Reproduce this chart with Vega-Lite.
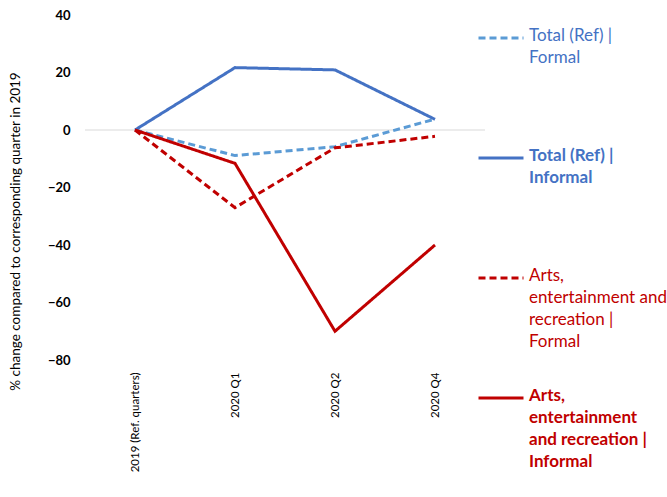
{
  "$schema": "https://vega.github.io/schema/vega-lite/v6.json",
  "width": 400,
  "height": 345,
  "autosize": "none",
  "padding": {"left": 85, "top": 15, "right": 182, "bottom": 137},
  "background": "white",
  "config": {"view": {"stroke": null}, "font": "Lato"},
  "data": {"values": [
    {"quarter": "2019 (Ref. quarters)", "series": "Total (Ref) | Formal", "value": 0},
    {"quarter": "2020 Q1", "series": "Total (Ref) | Formal", "value": -8.9},
    {"quarter": "2020 Q2", "series": "Total (Ref) | Formal", "value": -5.8},
    {"quarter": "2020 Q4", "series": "Total (Ref) | Formal", "value": 3.8},
    {"quarter": "2019 (Ref. quarters)", "series": "Total (Ref) | Informal", "value": 0},
    {"quarter": "2020 Q1", "series": "Total (Ref) | Informal", "value": 21.7},
    {"quarter": "2020 Q2", "series": "Total (Ref) | Informal", "value": 20.9},
    {"quarter": "2020 Q4", "series": "Total (Ref) | Informal", "value": 3.7},
    {"quarter": "2019 (Ref. quarters)", "series": "Arts, entertainment and recreation | Formal", "value": 0},
    {"quarter": "2020 Q1", "series": "Arts, entertainment and recreation | Formal", "value": -27},
    {"quarter": "2020 Q2", "series": "Arts, entertainment and recreation | Formal", "value": -6.2},
    {"quarter": "2020 Q4", "series": "Arts, entertainment and recreation | Formal", "value": -2.2},
    {"quarter": "2019 (Ref. quarters)", "series": "Arts, entertainment and recreation | Informal", "value": 0},
    {"quarter": "2020 Q1", "series": "Arts, entertainment and recreation | Informal", "value": -11.6},
    {"quarter": "2020 Q2", "series": "Arts, entertainment and recreation | Informal", "value": -70},
    {"quarter": "2020 Q4", "series": "Arts, entertainment and recreation | Informal", "value": -40}
  ]},
  "layer": [
    {
      "data": {"values": [{"zero": 0}]},
      "mark": {"type": "rule", "color": "#d9d9d9", "strokeWidth": 1},
      "encoding": {"y": {"field": "zero", "type": "quantitative", "scale": {"domain": [-80, 40]}}}
    },
    {
      "mark": {"type": "line", "strokeWidth": 3},
      "encoding": {
        "x": {
          "field": "quarter", "type": "nominal",
          "sort": ["2019 (Ref. quarters)", "2020 Q1", "2020 Q2", "2020 Q4"],
          "scale": {"type": "point", "padding": 0.5},
          "axis": {
            "title": null, "labelAngle": -90, "domain": false, "ticks": false,
            "labelPadding": 12, "labelFontSize": 11.5, "labelColor": "#000000", "labelFont": "Lato"
          }
        },
        "y": {
          "field": "value", "type": "quantitative",
          "scale": {"domain": [-80, 40], "nice": false},
          "axis": {
            "values": [-80, -60, -40, -20, 0, 20, 40],
            "grid": false, "domain": false, "ticks": false,
            "labelPadding": 15, "labelFontSize": 13, "labelFontWeight": "bold", "labelColor": "#000000",
            "title": "% change compared to corresponding  quarter in 2019",
            "titleFontSize": 13.5, "titleFontWeight": "normal", "titleColor": "#000000",
            "titleX": -70, "titleY": 216, "titleAngle": -90, "titleBaseline": "middle", "titleAlign": "center"
          }
        },
        "color": {
          "field": "series", "type": "nominal",
          "sort": ["Total (Ref) | Formal", "Total (Ref) | Informal", "Arts, entertainment and recreation | Formal", "Arts, entertainment and recreation | Informal"],
          "scale": {
            "domain": ["Total (Ref) | Formal", "Total (Ref) | Informal", "Arts, entertainment and recreation | Formal", "Arts, entertainment and recreation | Informal"],
            "range": ["#5B9BD5", "#4472C4", "#C00000", "#C00000"]
          },
          "legend": {
            "title": null, "orient": "none", "legendX": 392, "legendY": -1,
            "padding": 0, "symbolType": "stroke", "symbolSize": 2025, "symbolStrokeWidth": 3,
            "labelOffset": 4, "labelFontSize": 17, "labelFont": "Lato", "labelLimit": 300,
            "labelBaseline": "top",
            "gridAlign": "all", "rowPadding": 24,
            "labelExpr": "datum.label == 'Total (Ref) | Formal' ? ['Total (Ref) |', 'Formal'] : datum.label == 'Total (Ref) | Informal' ? ['Total (Ref) |', 'Informal'] : datum.label == 'Arts, entertainment and recreation | Formal' ? ['Arts,', 'entertainment and', 'recreation |', 'Formal'] : ['Arts,', 'entertainment', 'and recreation |', 'Informal']",
            "encode": {
              "labels": {
                "update": {
                  "fill": {"signal": "indexof(datum.label, 'Total') === 0 ? '#4472C4' : '#C00000'"},
                  "fontWeight": {"signal": "indexof(datum.label, 'Informal') >= 0 ? 'bold' : 'normal'"},
                  "lineHeight": {"value": 22},
                  "dy": {"value": -10}
                }
              }
            }
          }
        },
        "strokeDash": {
          "field": "series", "type": "nominal",
          "sort": ["Total (Ref) | Formal", "Total (Ref) | Informal", "Arts, entertainment and recreation | Formal", "Arts, entertainment and recreation | Informal"],
          "scale": {
            "domain": ["Total (Ref) | Formal", "Total (Ref) | Informal", "Arts, entertainment and recreation | Formal", "Arts, entertainment and recreation | Informal"],
            "range": [[7, 4], [1, 0], [7, 4], [1, 0]]
          }
        }
      }
    }
  ]
}
